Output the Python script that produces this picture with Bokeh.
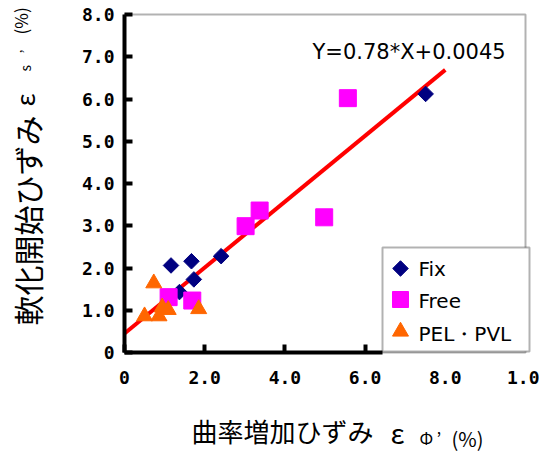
import math

from bokeh.embed import file_html
from bokeh.models import BoxAnnotation, FixedTicker, Label, LinearAxis, Range1d
from bokeh.plotting import figure
from bokeh.resources import INLINE

# ---- data (strains in %) ----
fix_x = [1.16, 1.67, 1.73, 2.41, 1.37, 7.51]
fix_y = [2.06, 2.16, 1.73, 2.28, 1.43, 6.12]

free_x = [1.10, 1.69, 3.02, 3.37, 4.98, 5.57]
free_y = [1.31, 1.23, 2.99, 3.36, 3.20, 6.02]

pel_x = [0.73, 0.50, 0.86, 0.94, 1.09, 1.85]
pel_y = [1.64, 0.86, 0.86, 1.07, 1.01, 1.03]

series_names = ["Fix", "Free", "PEL・PVL"]

# regression line: Y = slope * X + intercept (intercept given as strain fraction)
fit_slope = 0.78
fit_intercept = 0.0045
fit_x_end = 8.0

x_ticks = [0, 2, 4, 6, 8, 10]
x_tick_labels = ["0", "2.0", "4.0", "6.0", "8.0", "1.0"]
y_ticks = [0, 1, 2, 3, 4, 5, 6, 7, 8]
y_tick_labels = ["0", "1.0", "2.0", "3.0", "4.0", "5.0", "6.0", "7.0", "8.0"]

# ---- layout ----
W, H = 539, 452
FL, FR, FT, FB = 124, 525, 14, 352   # plot box edges in canvas pixels
XMAX, YMAX = 10, 8
SX = (FR - FL) / XMAX                # pixels per x unit
SY = (FB - FT) / YMAX                # pixels per y unit

# legend box (canvas pixels)
LG_L, LG_R, LG_T, LG_B = 382, 529, 247, 351


def dx(px):
    return (px - FL) / SX


def dy(py):
    return (FB - py) / SY


# the drawing area spans the whole canvas; the axes sit at fixed positions inside it
p = figure(
    width=W, height=H,
    x_range=Range1d(-FL / SX, (W - FL) / SX),
    y_range=Range1d(-(H - FB) / SY, FB / SY),
    x_axis_type=None, y_axis_type=None,
    output_backend="svg", toolbar_location=None,
    min_border=0, min_border_left=0, min_border_right=0,
    min_border_top=0, min_border_bottom=0,
)
p.background_fill_color = "white"
p.border_fill_color = "white"
p.outline_line_color = None
p.xgrid.visible = False
p.ygrid.visible = False

# plot box (top and right edges show; left and bottom are covered by the axes)
p.add_layout(BoxAnnotation(left=0, right=XMAX, bottom=0, top=YMAX,
                           fill_alpha=0, line_color="black", line_width=2,
                           level="underlay"))


def style_axis(ax, ticks, labels):
    ax.ticker = FixedTicker(ticks=ticks)
    ax.major_label_overrides = dict(zip(ticks, labels))
    ax.axis_line_width = 4
    ax.axis_line_color = "black"
    ax.major_tick_line_width = 4
    ax.major_tick_line_color = "black"
    ax.major_tick_in = 8
    ax.major_tick_out = 0
    ax.minor_tick_line_color = None
    ax.major_label_text_font = "DejaVu Sans Mono"
    ax.major_label_text_font_style = "bold"
    ax.major_label_text_font_size = "18px"
    ax.major_label_text_color = "black"


# bottom axis: line and ticks stop where the legend box starts
x_split = dx(LG_L)
x_left_ticks = [t for t in x_ticks if t < x_split]
x_right_ticks = [t for t in x_ticks if t >= x_split]
xaxis = LinearAxis(fixed_location=0, bounds=(0, x_split))
style_axis(xaxis, x_left_ticks, [l for t, l in zip(x_ticks, x_tick_labels) if t < x_split])
xaxis.major_label_standoff = 18
p.add_layout(xaxis, "below")

# labels of the ticks hidden behind the legend
xaxis_r = LinearAxis(fixed_location=0, bounds=(0, XMAX))
style_axis(xaxis_r, x_right_ticks, [l for t, l in zip(x_ticks, x_tick_labels) if t >= x_split])
xaxis_r.axis_line_color = None
xaxis_r.major_tick_line_color = None
xaxis_r.major_label_standoff = 18
p.add_layout(xaxis_r, "below")

yaxis = LinearAxis(fixed_location=0, bounds=(0, YMAX))
style_axis(yaxis, y_ticks, y_tick_labels)
yaxis.major_label_standoff = 10
p.add_layout(yaxis, "left")

# legend box, drawn beneath the marks
p.add_layout(BoxAnnotation(left=dx(LG_L), right=dx(LG_R), top=dy(LG_T), bottom=dy(LG_B),
                           fill_color="white", fill_alpha=1.0,
                           line_color="black", line_width=2, level="underlay"))

# regression line
fit_b = fit_intercept * 100
p.line([0, fit_x_end], [fit_b, fit_slope * fit_x_end + fit_b], line_color="#FF0000", line_width=4)

# markers
FIX_STYLE = dict(marker="square", angle=math.pi / 4, size=11, fill_color="#000080", line_color="#000080")
FREE_STYLE = dict(marker="square", size=17, fill_color="#FF00FF", line_color="#FF00FF")
PEL_STYLE = dict(marker="triangle", size=16, fill_color="#FF6600", line_color="#FF6600")

p.scatter(fix_x, fix_y, **FIX_STYLE)
p.scatter(free_x, free_y, **FREE_STYLE)
p.scatter(pel_x, pel_y, **PEL_STYLE)

# legend swatches and labels
swatch_x = dx(400)
swatch_rows = [268, 299, 331]
label_baselines = [268, 300, 333]
for name, style, row, base in zip(series_names, (FIX_STYLE, FREE_STYLE, PEL_STYLE),
                                  swatch_rows, label_baselines):
    s = dict(style)
    if s["marker"] == "square" and "angle" not in s:
        s["size"] = 16
    p.scatter([swatch_x], [dy(row)], **s)
    p.add_layout(Label(x=dx(418), y=dy(base), text=name, text_font="DejaVu Sans",
                       text_font_size="20px", text_align="left",
                       text_baseline="alphabetic", text_color="black"))

# regression equation
p.add_layout(Label(x=dx(312), y=dy(51), text=f"Y={fit_slope}*X+{fit_intercept}",
                   text_font="DejaVu Sans", text_font_size="21px",
                   text_baseline="alphabetic", text_color="black"))

JP = "Noto Sans CJK JP"

# x-axis title: 曲率増加ひずみ εΦ' (%)
for txt, px, py, fs in (("曲率増加ひずみ", 191, 430, 26),
                        ("ε", 390, 431, 28),
                        ("Φ", 419, 437, 17),
                        ("’", 436, 437, 17),
                        ("(%)", 451, 438, 20)):
    p.add_layout(Label(x=dx(px), y=dy(py), text=txt, text_font=JP,
                       text_font_size=f"{fs}px", text_align="left",
                       text_baseline="alphabetic", text_color="black"))

# y-axis title (rotated): 軟化開始ひずみ εs' (%)
for txt, px, py, fs in (("軟化開始ひずみ", 26, 325, 30),
                        ("ε", 22.5, 106, 26),
                        ("s", 24.5, 71, 14),
                        ("’", 24.5, 53, 14),
                        ("(%)", 20, 34, 17)):
    p.add_layout(Label(x=dx(px), y=dy(py), text=txt, text_font=JP,
                       text_font_size=f"{fs}px", text_align="left",
                       text_baseline="alphabetic", angle=math.pi / 2,
                       text_color="black"))

with open("out.html", "w") as f:
    f.write(file_html(p, INLINE))
